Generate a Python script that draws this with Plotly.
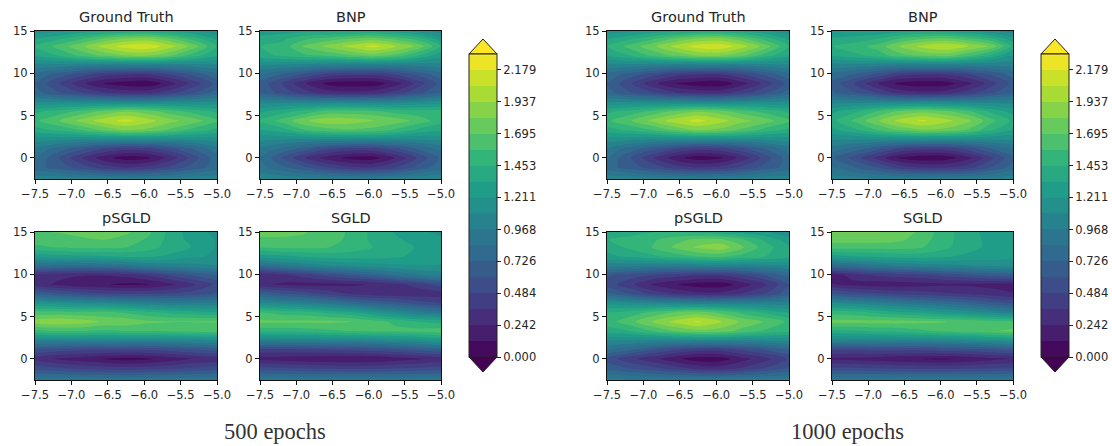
import plotly.graph_objects as go

X_GRID = [-7.5, -7.1875, -6.875, -6.5625, -6.25, -5.9375, -5.625, -5.3125, -5.0]
Y_GRID = [-2.5, -1.1, 0, 1.1, 2.2, 3.3, 4.4, 5.5, 6.6, 7.7, 8.8, 9.9, 11, 12.1, 13.2, 14.1, 15]

ground_truth = [
 [1.05,1.05,1.03,1.02,1.0,1.0,1.02,1.05,1.05],
 [.78,.67,.55,.42,.35,.39,.52,.66,.78],
 [.85,.62,.38,.17,.05,.1,.3,.55,.8],
 [.95,.8,.65,.5,.42,.45,.58,.75,.92],
 [1.15,1.12,1.1,1.1,1.1,1.1,1.1,1.12,1.15],
 [1.4,1.48,1.58,1.72,1.82,1.78,1.66,1.52,1.42],
 [1.55,1.68,1.85,2.0,2.1,1.98,1.85,1.75,1.6],
 [1.42,1.5,1.6,1.72,1.8,1.74,1.62,1.52,1.42],
 [1.1,1.1,1.08,1.08,1.06,1.06,1.08,1.1,1.12],
 [.78,.62,.5,.38,.32,.32,.45,.6,.78],
 [.72,.5,.28,.12,.05,.03,.2,.42,.65],
 [.82,.68,.55,.42,.38,.38,.5,.65,.82],
 [1.05,1.05,1.02,1.0,1.0,1.0,1.02,1.05,1.08],
 [1.35,1.45,1.6,1.72,1.82,1.82,1.7,1.5,1.35],
 [1.45,1.62,1.78,1.98,2.12,2.15,1.98,1.75,1.45],
 [1.32,1.42,1.55,1.7,1.82,1.85,1.7,1.5,1.3],
 [1.15,1.18,1.25,1.3,1.35,1.35,1.3,1.22,1.12],
]
bnp_500 = [
 [1.05,1.05,1.03,1.0,1.0,1.0,1.02,1.05,1.08],
 [.9,.75,.62,.48,.38,.36,.48,.65,.8],
 [.85,.6,.35,.18,.08,.06,.25,.5,.75],
 [.95,.82,.68,.52,.45,.45,.58,.75,.9],
 [1.12,1.1,1.08,1.08,1.08,1.08,1.08,1.1,1.12],
 [1.32,1.4,1.58,1.65,1.68,1.65,1.55,1.42,1.35],
 [1.48,1.62,1.8,1.9,1.88,1.82,1.76,1.65,1.5],
 [1.3,1.4,1.5,1.62,1.62,1.6,1.52,1.5,1.5],
 [1.05,1.05,1.05,1.05,1.05,1.05,1.05,1.1,1.15],
 [.72,.55,.42,.3,.28,.3,.42,.58,.72],
 [.68,.48,.25,.08,.04,.05,.18,.42,.65],
 [.85,.72,.58,.45,.4,.4,.5,.65,.8],
 [1.1,1.08,1.05,1.02,1.0,1.0,1.0,1.02,1.05],
 [1.4,1.48,1.55,1.6,1.68,1.75,1.65,1.45,1.25],
 [1.45,1.5,1.72,1.85,1.98,2.1,1.95,1.78,1.45],
 [1.38,1.42,1.55,1.62,1.7,1.75,1.65,1.5,1.25],
 [1.25,1.28,1.3,1.3,1.3,1.3,1.25,1.15,1.02],
]
psgld_500 = [
 [.95,.95,.95,.95,.95,.95,.95,.95,.95],
 [.55,.5,.45,.42,.4,.42,.45,.5,.55],
 [.32,.22,.18,.12,.07,.1,.18,.25,.28],
 [.58,.55,.52,.5,.5,.52,.55,.6,.65],
 [1.05,1.05,1.05,1.05,1.05,1.05,1.08,1.08,1.1],
 [1.55,1.58,1.58,1.55,1.58,1.58,1.6,1.62,1.65],
 [1.88,1.92,1.88,1.8,1.78,1.72,1.7,1.7,1.7],
 [1.62,1.62,1.6,1.6,1.55,1.48,1.42,1.38,1.35],
 [1.2,1.15,1.12,1.1,1.05,1.0,.98,.98,1.0],
 [.7,.62,.55,.5,.48,.48,.5,.55,.62],
 [.3,.22,.16,.13,.1,.12,.22,.35,.52],
 [.3,.28,.25,.25,.28,.38,.5,.62,.72],
 [.85,.82,.82,.85,.9,.98,1.02,1.05,1.08],
 [1.25,1.28,1.3,1.32,1.35,1.35,1.3,1.22,1.2],
 [1.55,1.58,1.6,1.6,1.58,1.5,1.4,1.32,1.2],
 [1.62,1.65,1.68,1.7,1.65,1.55,1.4,1.28,1.2],
 [1.68,1.7,1.72,1.75,1.72,1.6,1.4,1.25,1.18],
]
sgld_500 = [
 [.98,.98,.98,.98,.98,.98,.98,.98,.98],
 [.52,.5,.48,.46,.45,.45,.48,.5,.52],
 [.2,.18,.15,.13,.12,.13,.18,.22,.28],
 [.45,.45,.48,.5,.52,.55,.6,.65,.7],
 [1.0,1.02,1.02,1.05,1.05,1.08,1.12,1.15,1.25],
 [1.5,1.5,1.52,1.55,1.58,1.6,1.6,1.62,1.65],
 [1.72,1.72,1.72,1.72,1.7,1.62,1.55,1.45,1.4],
 [1.58,1.52,1.5,1.42,1.35,1.22,1.1,.98,.9],
 [1.1,1.05,1.0,.92,.82,.72,.65,.55,.48],
 [.72,.62,.55,.45,.35,.3,.28,.28,.3],
 [.28,.22,.2,.2,.22,.25,.32,.42,.55],
 [.25,.32,.42,.52,.62,.72,.85,.95,1.02],
 [.82,.92,1.0,1.08,1.12,1.15,1.18,1.2,1.2],
 [1.25,1.3,1.35,1.38,1.38,1.38,1.35,1.3,1.3],
 [1.58,1.6,1.6,1.58,1.52,1.45,1.38,1.32,1.25],
 [1.68,1.68,1.68,1.62,1.55,1.42,1.35,1.28,1.22],
 [1.72,1.72,1.7,1.65,1.55,1.42,1.32,1.22,1.2],
]
bnp_1000 = [
 [1.02,1.02,1.0,1.0,1.0,1.0,1.0,1.02,1.05],
 [.85,.72,.6,.42,.35,.35,.42,.6,.78],
 [.75,.55,.32,.1,.03,.05,.2,.45,.7],
 [.92,.8,.65,.48,.42,.42,.55,.72,.88],
 [1.1,1.1,1.1,1.1,1.1,1.1,1.1,1.1,1.1],
 [1.3,1.42,1.58,1.72,1.8,1.78,1.68,1.48,1.32],
 [1.42,1.6,1.8,1.98,2.08,1.98,1.85,1.62,1.42],
 [1.3,1.42,1.58,1.72,1.78,1.72,1.6,1.42,1.28],
 [1.05,1.05,1.05,1.05,1.05,1.05,1.05,1.05,1.05],
 [.75,.62,.48,.32,.28,.3,.42,.58,.72],
 [.68,.48,.25,.08,.04,.06,.2,.42,.65],
 [.82,.72,.58,.42,.38,.38,.48,.62,.78],
 [1.05,1.05,1.02,1.0,1.0,1.0,1.0,1.0,1.02],
 [1.35,1.42,1.5,1.65,1.72,1.75,1.6,1.42,1.2],
 [1.45,1.52,1.62,1.82,1.98,2.05,1.95,1.8,1.42],
 [1.35,1.38,1.45,1.58,1.68,1.72,1.62,1.48,1.25],
 [1.2,1.22,1.22,1.28,1.3,1.28,1.22,1.12,1.02],
]
psgld_1000 = [
 [1.0,.98,.98,.98,.98,.98,1.0,1.0,1.0],
 [.68,.6,.52,.42,.32,.3,.38,.5,.62],
 [.55,.4,.28,.15,.05,.06,.2,.32,.5],
 [.85,.75,.62,.5,.42,.42,.52,.62,.75],
 [1.1,1.1,1.08,1.08,1.08,1.08,1.08,1.1,1.12],
 [1.4,1.45,1.58,1.7,1.78,1.75,1.65,1.55,1.48],
 [1.52,1.65,1.82,1.98,2.08,1.95,1.78,1.68,1.55],
 [1.45,1.5,1.6,1.7,1.75,1.66,1.52,1.42,1.32],
 [1.18,1.12,1.08,1.05,1.02,1.02,1.02,1.02,1.02],
 [.75,.6,.45,.35,.28,.28,.38,.5,.68],
 [.55,.4,.22,.13,.06,.05,.18,.35,.6],
 [.62,.55,.48,.42,.38,.38,.48,.62,.78],
 [1.0,1.0,.98,.98,1.0,1.02,1.02,1.05,1.08],
 [1.3,1.35,1.42,1.5,1.58,1.6,1.52,1.45,1.38],
 [1.38,1.48,1.58,1.72,1.84,1.9,1.7,1.5,1.35],
 [1.45,1.48,1.55,1.65,1.72,1.72,1.58,1.42,1.25],
 [1.42,1.42,1.45,1.45,1.42,1.35,1.28,1.22,1.12],
]
sgld_1000 = [
 [.98,.98,.98,.98,.98,.98,.98,.98,.98],
 [.5,.5,.48,.46,.45,.45,.46,.48,.5],
 [.22,.2,.18,.14,.12,.1,.14,.2,.25],
 [.5,.5,.52,.52,.52,.55,.58,.6,.65],
 [1.05,1.05,1.05,1.05,1.05,1.08,1.1,1.15,1.2],
 [1.42,1.44,1.48,1.5,1.55,1.6,1.65,1.68,1.72],
 [1.74,1.74,1.74,1.74,1.72,1.7,1.66,1.62,1.6],
 [1.52,1.5,1.42,1.35,1.3,1.22,1.15,1.08,1.0],
 [1.12,1.05,1.0,.95,.88,.82,.75,.65,.58],
 [.62,.55,.5,.45,.42,.38,.35,.3,.25],
 [.25,.2,.17,.18,.2,.22,.22,.2,.2],
 [.18,.3,.38,.42,.45,.52,.58,.65,.68],
 [.78,.85,.92,.98,1.02,1.05,1.08,1.1,1.12],
 [1.28,1.32,1.35,1.38,1.38,1.35,1.3,1.28,1.25],
 [1.62,1.62,1.62,1.62,1.58,1.48,1.38,1.3,1.25],
 [1.75,1.75,1.75,1.72,1.62,1.5,1.38,1.3,1.24],
 [1.82,1.82,1.82,1.8,1.65,1.5,1.38,1.28,1.22],
]

TITLES = ["Ground Truth", "BNP", "pSGLD", "SGLD"]
CAPTIONS = ["500 epochs", "1000 epochs"]
GROUPS = [[ground_truth, bnp_500, psgld_500, sgld_500],
          [ground_truth, bnp_1000, psgld_1000, sgld_1000]]
X_TICKS = [-7.5, -7.0, -6.5, -6.0, -5.5, -5.0]
X_LABELS = ["\u22127.5", "\u22127.0", "\u22126.5", "\u22126.0", "\u22125.5", "\u22125.0"]
Y_TICKS = [0, 5, 10, 15]
CB_TICKS = [0.000, 0.242, 0.484, 0.726, 0.968, 1.211, 1.453, 1.695, 1.937, 2.179]
CB_LABELS = ["0.000", "0.242", "0.484", "0.726", "0.968", "1.211", "1.453", "1.695", "1.937", "2.179"]

W, H = 1112, 446
LEVEL_MIN, LEVEL_MAX, LEVEL_STEP = 0.0, 2.3, 2.3 / 19
TEXT = "#262626"

def fx(p): return p / W
def fy(p): return 1 - p / H

PANEL_X = [[(35, 217), (260, 441)], [(607, 789), (832, 1013)]]
PANEL_Y = [(31, 179), (232, 380)]
CB_X = [(469, 497), (1041, 1069)]
CB_Y = (54, 357)
CB_TIP = 15
CAPTION_X = [275, 847]
CAPTION_Y = 431

fig = go.Figure()
annotations, shapes = [], []
n = 0
for g, panels in enumerate(GROUPS):
    for i, z in enumerate(panels):
        n += 1
        row, col = i // 2, i % 2
        sfx = "" if n == 1 else str(n)
        x0, x1 = PANEL_X[g][col]
        y0, y1 = PANEL_Y[row]
        show = i == 0
        trace = go.Contour(
            x=X_GRID, y=Y_GRID, z=z, xaxis="x" + sfx, yaxis="y" + sfx,
            colorscale="Viridis", zmin=LEVEL_MIN, zmax=LEVEL_MAX, zauto=False,
            contours=dict(start=LEVEL_MIN, end=LEVEL_MAX, size=LEVEL_STEP, coloring="fill", showlines=False),
            line=dict(width=0, smoothing=0.8), hoverinfo="skip", showscale=show,
        )
        if show:
            trace.colorbar = dict(
                x=fx(CB_X[g][0]), xanchor="left", xpad=0, ypad=0,
                y=fy(CB_Y[1]), yanchor="bottom", len=(CB_Y[1] - CB_Y[0]) / H, lenmode="fraction",
                thickness=CB_X[g][1] - CB_X[g][0], thicknessmode="pixels",
                outlinecolor="#222222", outlinewidth=1,
                tickmode="array", tickvals=CB_TICKS, ticktext=CB_LABELS,
                ticks="outside", ticklen=4, tickwidth=1, tickcolor="#222222",
                tickfont=dict(family="DejaVu Sans", size=11.5, color=TEXT),
            )
        fig.add_trace(trace)
        axis_common = dict(showgrid=False, zeroline=False, showline=True, linecolor="#111111", linewidth=1,
                           mirror=True, ticks="outside", ticklen=4, tickwidth=1, tickcolor="#111111",
                           tickfont=dict(family="DejaVu Sans", size=11.5, color=TEXT))
        fig.layout["xaxis" + sfx] = dict(domain=[fx(x0), fx(x1)], range=[-7.5, -5.0], anchor="y" + sfx,
                                         tickmode="array", tickvals=X_TICKS, ticktext=X_LABELS, tickangle=0, **axis_common)
        fig.layout["yaxis" + sfx] = dict(domain=[fy(y1), fy(y0)], range=[-2.5, 15], anchor="x" + sfx,
                                         tickmode="array", tickvals=Y_TICKS, **axis_common)
        annotations.append(dict(text=TITLES[i], xref="paper", yref="paper", x=fx((x0 + x1) / 2), y=fy(y0 - 4),
                                xanchor="center", yanchor="bottom", showarrow=False,
                                font=dict(family="DejaVu Sans", size=14.5, color=TEXT)))
    annotations.append(dict(text=CAPTIONS[g], xref="paper", yref="paper", x=fx(CAPTION_X[g]), y=fy(CAPTION_Y),
                            xanchor="center", yanchor="middle", showarrow=False,
                            font=dict(family="Liberation Serif", size=22.5, color="#333333")))
    a, b = CB_X[g]
    mid = (a + b) / 2
    top_path = f"M {fx(a)} {fy(CB_Y[0])} L {fx(mid)} {fy(CB_Y[0] - CB_TIP)} L {fx(b)} {fy(CB_Y[0])} Z"
    bot_path = f"M {fx(a)} {fy(CB_Y[1])} L {fx(mid)} {fy(CB_Y[1] + CB_TIP)} L {fx(b)} {fy(CB_Y[1])} Z"
    shapes.append(dict(type="path", path=top_path, xref="paper", yref="paper", fillcolor="#fde725", line=dict(color="#222222", width=1)))
    shapes.append(dict(type="path", path=bot_path, xref="paper", yref="paper", fillcolor="#440154", line=dict(color="#222222", width=1)))

fig.update_layout(width=W, height=H, margin=dict(l=0, r=0, t=0, b=0, autoexpand=False), paper_bgcolor="white",
                  plot_bgcolor="white", showlegend=False, annotations=annotations, shapes=shapes)
fig.write_html("out.html", config={"displayModeBar": False},
               post_script="document.body.style.margin='0';document.documentElement.style.overflow='hidden';")
